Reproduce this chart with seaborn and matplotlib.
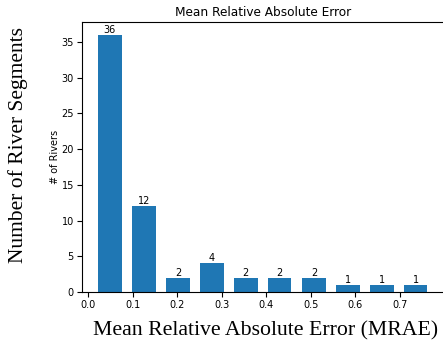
import pandas as pd
import seaborn as sns
import matplotlib.pyplot as plt

# histogram bins (centres) and number of rivers per bin
bin_centers = [0.049, 0.125, 0.202, 0.278, 0.354, 0.430, 0.507, 0.583, 0.659, 0.735]
counts = [36, 12, 2, 4, 2, 2, 2, 1, 1, 1]

df = pd.DataFrame({'mrae': bin_centers, 'rivers': counts})

fig = plt.figure(figsize=(4.43, 3.41), dpi=100)
ax = fig.add_axes([0.184, 0.1437, 0.818, 0.7918])

sns.barplot(data=df, x='mrae', y='rivers', native_scale=True, orient='x',
            width=0.7, color='#1f77b4', saturation=1, ax=ax)
ax.bar_label(ax.containers[0], fontsize=7)

ax.set_title("Mean Relative Absolute Error", fontsize=8.7, pad=4)
ax.set_ylabel("# of Rivers", fontsize=7, labelpad=1)
ax.set_xlabel("")
ax.tick_params(labelsize=7, length=3.5, pad=2)

fig.text(0.6, 0.0176, "Mean Relative Absolute Error (MRAE)",
         family='Liberation Serif', fontsize=15.7, ha='center', va='baseline')
fig.text(0.04, 0.575, "Number of River Segments", family='Liberation Serif',
         fontsize=15.5, rotation=90, ha='center', va='center')

fig.savefig('out.png', dpi=100)
